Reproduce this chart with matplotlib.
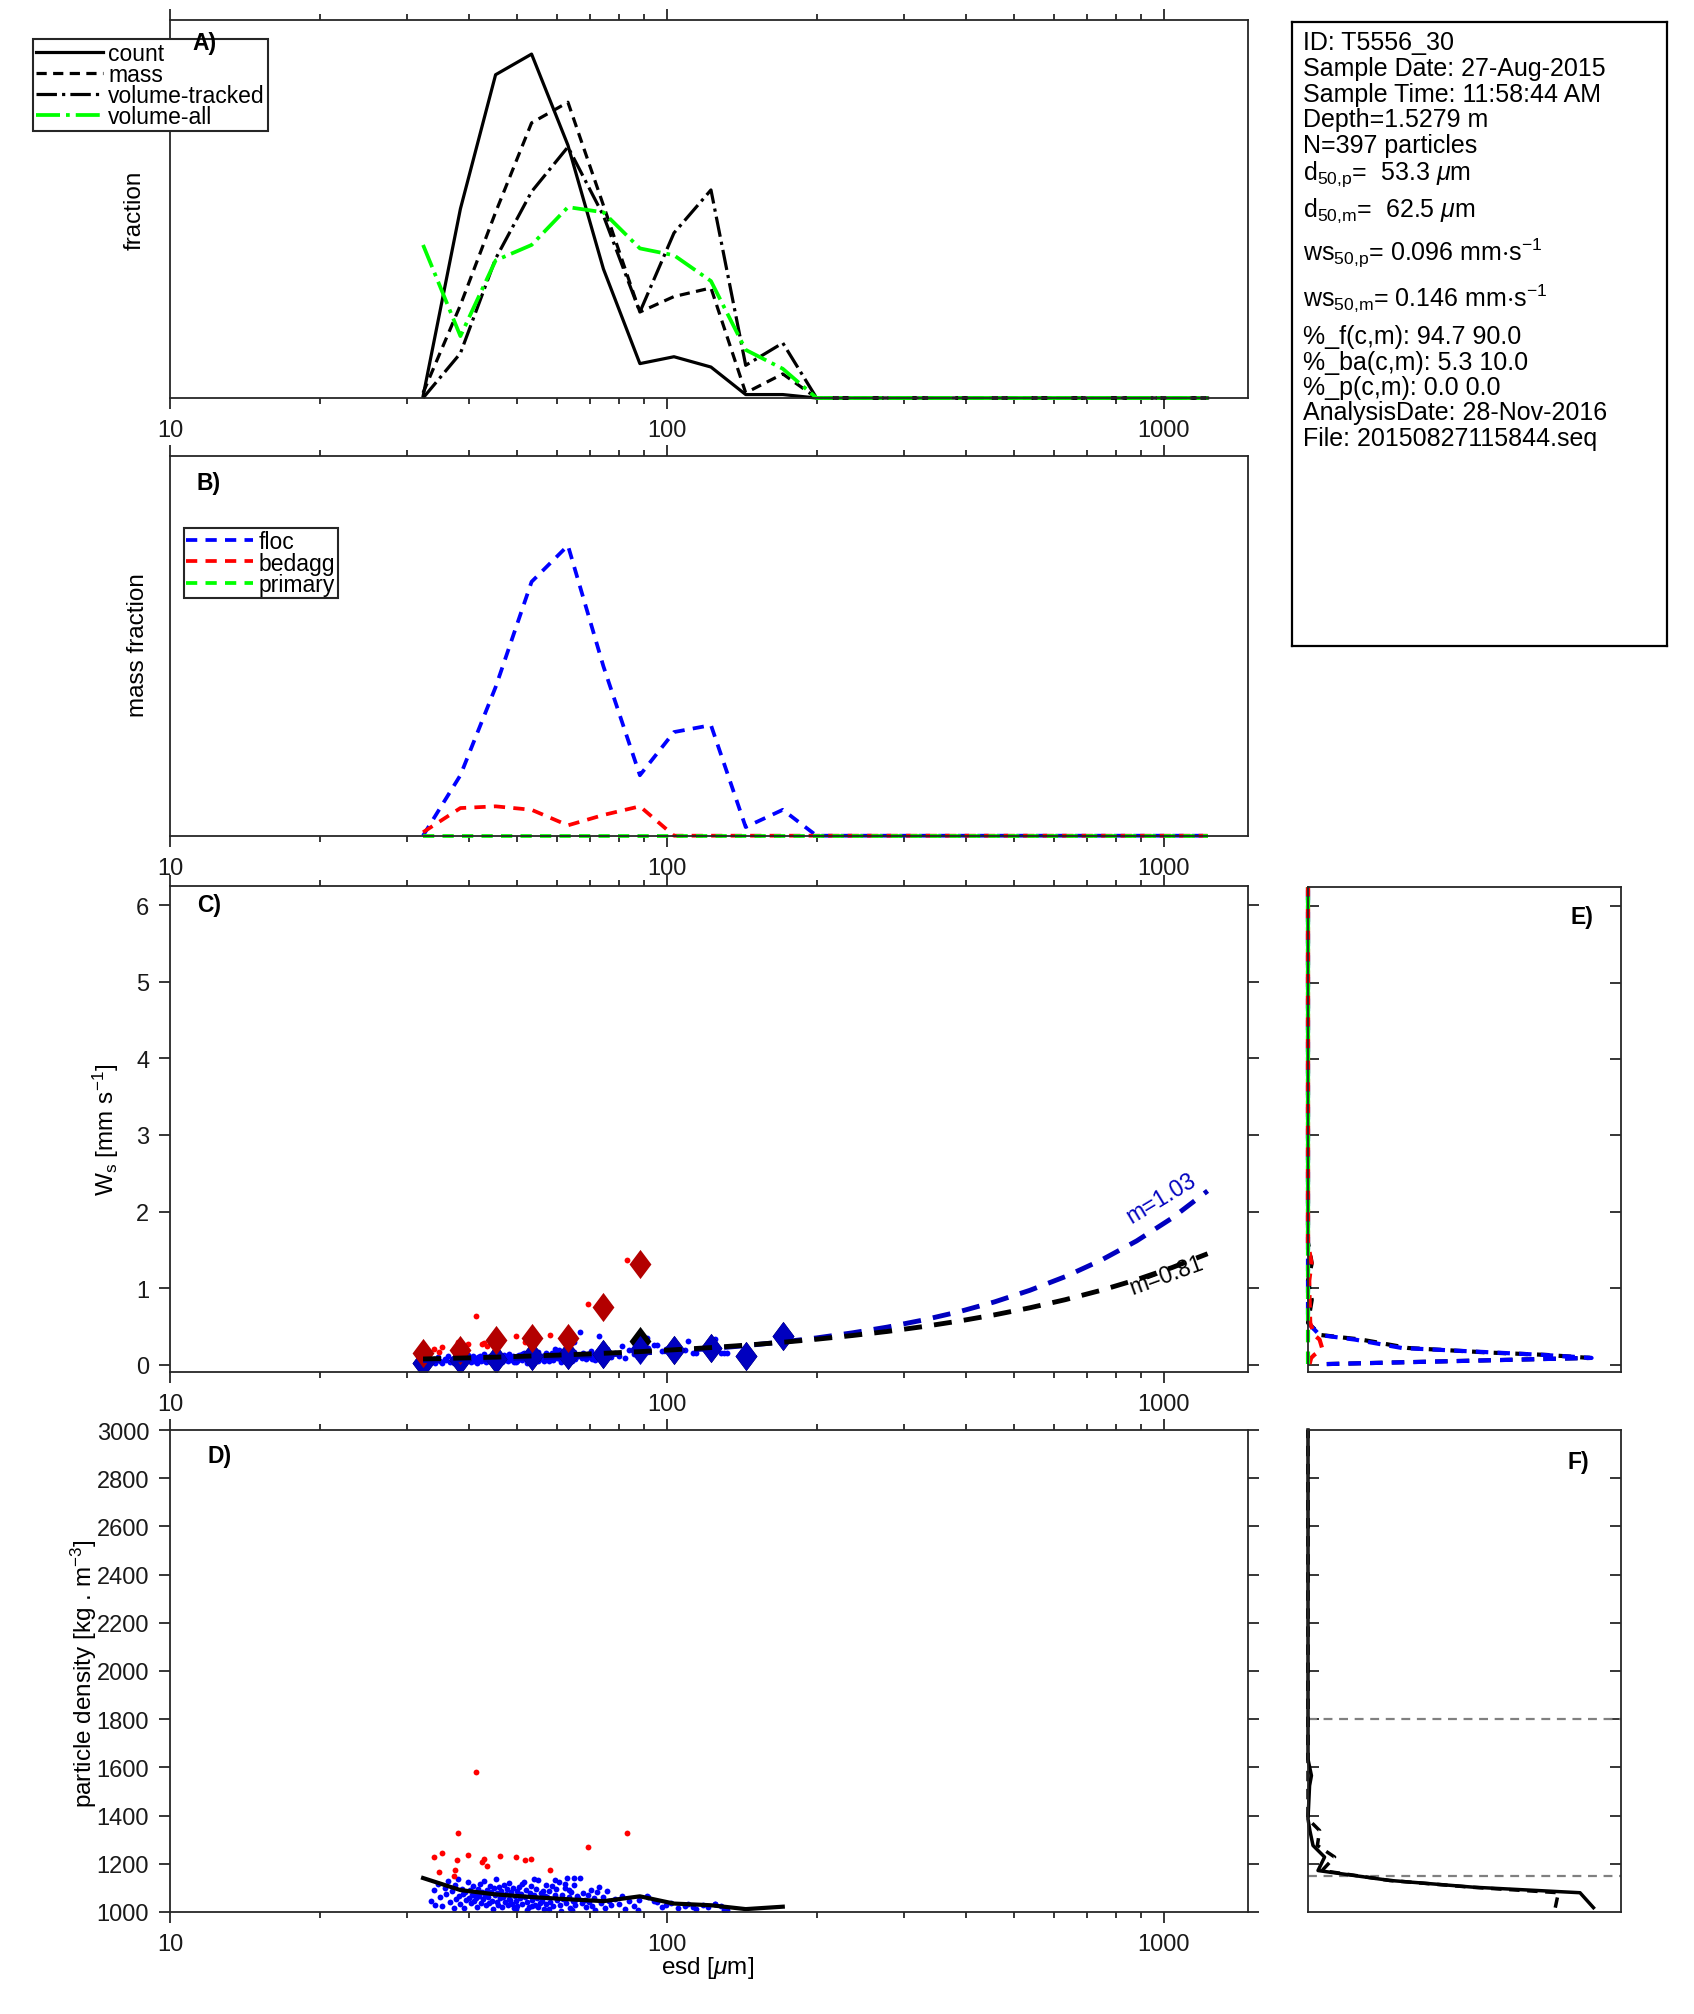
import numpy as np
import matplotlib
matplotlib.use('Agg')
import matplotlib.pyplot as plt
from matplotlib.path import Path
from matplotlib.ticker import FixedLocator, FixedFormatter, LogLocator, NullFormatter

plt.rcParams['font.family'] = ['Liberation Sans', 'DejaVu Sans']
plt.rcParams['mathtext.fontset'] = 'custom'
plt.rcParams['mathtext.rm'] = 'Liberation Sans'
plt.rcParams['mathtext.it'] = 'Liberation Sans:italic'
plt.rcParams['mathtext.default'] = 'regular'

# ---- size bins (esd, um) ----
esd_bins = [32.3, 38.4, 45.2, 53.4, 63.2, 74.5, 88.2, 103.3, 122.6, 144, 171, 200,
            236, 278, 328, 387, 456, 537, 633, 747, 881, 1038, 1224]

# A) fractions
count_frac = [0.001, 0.110, 0.188, 0.200, 0.147, 0.075, 0.020, 0.024, 0.018, 0.002, 0.002, 0.0,
              0, 0, 0, 0, 0, 0, 0, 0, 0, 0, 0]
mass_frac = [0.003, 0.054, 0.108, 0.160, 0.172, 0.112, 0.050, 0.059, 0.064, 0.003, 0.014, 0.0,
             0, 0, 0, 0, 0, 0, 0, 0, 0, 0, 0]
voltrk_frac = [0.0, 0.026, 0.081, 0.120, 0.146, 0.106, 0.050, 0.096, 0.121, 0.019, 0.032, 0.0,
               0, 0, 0, 0, 0, 0, 0, 0, 0, 0, 0]
volall_frac = [0.089, 0.036, 0.080, 0.089, 0.111, 0.108, 0.087, 0.083, 0.068, 0.028, 0.017, 0.0,
               0, 0, 0, 0, 0, 0, 0, 0, 0, 0, 0]

# B) mass fraction by class
floc_mass = [0.0, 0.035, 0.086, 0.147, 0.168, 0.098, 0.035, 0.060, 0.064, 0.005, 0.015, 0.0,
             0, 0, 0, 0, 0, 0, 0, 0, 0, 0, 0]
bedagg_mass = [0.002, 0.016, 0.017, 0.015, 0.006, 0.012, 0.017, 0.0, 0.0, 0.0, 0.0, 0.0,
               0, 0, 0, 0, 0, 0, 0, 0, 0, 0, 0]
primary_mass = [0, 0, 0, 0, 0, 0, 0, 0, 0, 0, 0, 0, 0, 0, 0, 0, 0, 0, 0, 0, 0, 0, 0]

# C) settling velocity fits (read off the dashed curves)
fit_floc = [0.054, 0.064, 0.076, 0.090, 0.107, 0.127, 0.151, 0.178, 0.212, 0.250, 0.299, 0.351,
            0.417, 0.493, 0.585, 0.693, 0.821, 0.972, 1.151, 1.365, 1.617, 1.915, 2.27]
fit_all = [0.076, 0.088, 0.100, 0.115, 0.131, 0.150, 0.172, 0.196, 0.225, 0.256, 0.294, 0.334,
           0.382, 0.436, 0.499, 0.571, 0.652, 0.744, 0.850, 0.972, 1.111, 1.269, 1.45]

# binned medians (diamonds)
med_floc_ws = [0.03, 0.06, 0.08, 0.11, 0.13, 0.14, 0.19, 0.19, 0.22, 0.11, 0.37]
med_all_ws = [0.03, 0.06, 0.08, 0.11, 0.13, 0.14, 0.31, 0.19, 0.22, 0.11, 0.37]
med_bedagg_ws = [0.15, 0.19, 0.32, 0.35, 0.35, 0.75, 1.32]

# individual particles: floc
floc_esd = [
    33.5, 33.9, 34.2, 34.6, 35.0, 35.3, 35.7, 36.0, 36.3, 36.6, 36.9, 37.2,
    37.4, 37.6, 37.9, 38.1, 38.3, 38.6, 38.8, 39.0, 39.2, 39.5, 39.7, 39.9, 40.1, 40.3, 40.5,
    40.7, 40.9, 41.1, 41.3, 41.5, 41.7, 41.9, 42.0, 42.2, 42.4,
    42.6, 42.8, 43.0, 43.2, 43.4, 43.6, 43.8, 44.0, 44.2, 44.4, 44.6, 44.8, 45.0, 45.2, 45.4,
    45.6, 45.8, 46.0, 46.2, 46.4, 46.6, 46.8, 47.0, 47.2, 47.4, 47.6, 47.8, 48.0, 48.2, 48.4,
    48.6, 48.8, 49.0, 49.2, 49.4,
    49.6, 49.8, 50.0, 50.3, 50.6, 50.9, 51.2, 51.5, 51.8, 52.1, 52.4, 52.7, 53.0, 53.3, 53.6,
    53.9, 54.2, 54.5, 54.8, 55.1, 55.4, 55.7, 56.0, 56.3, 56.6, 56.9, 57.1, 49.7, 51.0, 52.2,
    53.4, 54.0, 55.0, 56.1, 57.0,
    57.4, 57.8, 58.2, 58.6, 59.0, 59.4, 59.8, 60.2, 60.6, 61.0, 61.4, 61.8, 62.2, 62.6, 63.0,
    63.4, 63.8, 64.2, 64.6, 65.0, 65.4, 65.8, 58.0, 59.6, 61.2, 62.4, 63.6, 64.4, 65.2,
    66.3, 66.8, 67.3, 67.8, 68.3, 68.8, 69.3, 69.8, 70.3, 70.8, 71.3, 71.8, 72.3, 73.0, 73.5,
    74.2, 74.9, 75.6, 76.4, 77.3, 65.1,
    78.5, 80.0, 81.0, 82.3, 84.0, 86.0, 88.0, 91.0, 91.6, 87.5,
    94.0, 95.3, 97.5, 99.5, 102.0, 105.0, 108.5, 110.0,
    112.6, 114.3, 118.0, 121.0, 124.7, 125.0, 128.5, 130.0, 132.0]
floc_ws = [
    0.04, 0.07, 0.03, 0.10, 0.05, 0.02, 0.08, 0.06, 0.11, 0.04, 0.07, 0.03,
    0.09, 0.05, 0.12, 0.06, 0.04, 0.10, 0.07, 0.03, 0.08, 0.05, 0.13, 0.06, 0.09, 0.04, 0.07,
    0.11, 0.05, 0.08, 0.06, 0.03, 0.10, 0.07, 0.12, 0.05, 0.09,
    0.06, 0.14, 0.08, 0.04, 0.10, 0.07, 0.05, 0.12, 0.09, 0.06, 0.03, 0.11, 0.08, 0.15, 0.06,
    0.09, 0.05, 0.12, 0.07, 0.10, 0.04, 0.08, 0.13, 0.06, 0.09, 0.11, 0.05, 0.08, 0.14, 0.07,
    0.10, 0.06, 0.12, 0.04, 0.09,
    0.07, 0.11, 0.05, 0.13, 0.08, 0.10, 0.06, 0.16, 0.09, 0.12, 0.07, 0.05, 0.11, 0.14, 0.08,
    0.10, 0.06, 0.13, 0.09, 0.17, 0.07, 0.11, 0.08, 0.12, 0.05, 0.10, 0.15, 0.04, 0.14, 0.03,
    0.06, 0.18, 0.05, 0.09, 0.07,
    0.10, 0.13, 0.08, 0.16, 0.06, 0.11, 0.14, 0.09, 0.19, 0.07, 0.12, 0.10, 0.15, 0.08, 0.22,
    0.11, 0.06, 0.13, 0.09, 0.17, 0.07, 0.12, 0.05, 0.20, 0.04, 0.18, 0.14, 0.05, 0.10,
    0.12, 0.43, 0.09, 0.15, 0.11, 0.07, 0.14, 0.10, 0.18, 0.08, 0.13, 0.06, 0.16, 0.38, 0.11,
    0.14, 0.08, 0.20, 0.12, 0.10, 0.30,
    0.16, 0.12, 0.24, 0.09, 0.19, 0.14, 0.21, 0.35, 0.22, 0.10,
    0.26, 0.26, 0.18, 0.20, 0.23, 0.15, 0.19, 0.31,
    0.15, 0.15, 0.22, 0.18, 0.34, 0.20, 0.16, 0.15, 0.15]
floc_rho = [
    1045, 1092, 1030, 1118, 1062, 1024, 1101, 1075, 1128, 1041, 1088, 1015,
    1110, 1055, 1135, 1068, 1032, 1097, 1074, 1018, 1083, 1049, 1124, 1060, 1090, 1036, 1071,
    1106, 1044, 1079, 1057, 1021, 1094, 1066, 1115, 1039, 1085,
    1052, 1130, 1072, 1027, 1093, 1061, 1038, 1108, 1081, 1047, 1012, 1099, 1069, 1137, 1043,
    1077, 1031, 1102, 1058, 1087, 1020, 1064, 1112, 1040, 1073, 1095, 1028, 1056, 1121, 1050,
    1084, 1035, 1098, 1016, 1067,
    1046, 1089, 1024, 1104, 1059, 1076, 1033, 1126, 1063, 1091, 1042, 1019, 1080, 1109, 1051,
    1070, 1029, 1096, 1057, 1132, 1037, 1078, 1045, 1086, 1014, 1065, 1113, 1011, 1117, 1008,
    1026, 1139, 1022, 1053, 1034,
    1061, 1088, 1043, 1107, 1025, 1069, 1094, 1048, 1123, 1031, 1072, 1055, 1099, 1038, 1141,
    1063, 1017, 1082, 1044, 1110, 1027, 1066, 1012, 1131, 1006, 1115, 1090, 1010, 1050,
    1060, 1142, 1036, 1078, 1049, 1020, 1071, 1041, 1093, 1026, 1058, 1009, 1081, 1105, 1039,
    1063, 1018, 1087, 1047, 1029, 1142,
    1052, 1033, 1068, 1012, 1044, 1025, 1049, 1066, 1063, 1010,
    1044, 1040, 1022, 1030, 1038, 1016, 1026, 1035,
    1021, 1011, 1030, 1022, 1033, 1035, 1025, 1008, 1008]

# individual particles: bed aggregates
bed_esd = [33.9, 34.8, 35.3, 37.2, 37.5, 37.8, 37.9, 39.8, 41.3, 42.4, 42.8, 43.5, 46.1,
           49.6, 51.8, 53.2, 58.1, 69.2, 83.0]
bed_ws = [0.20, 0.17, 0.235, 0.18, 0.22, 0.20, 0.30, 0.27, 0.635, 0.27, 0.28, 0.25, 0.30,
          0.38, 0.30, 0.30, 0.39, 0.79, 1.37]
bed_rho = [1227, 1167, 1246, 1151, 1173, 1217, 1329, 1238, 1582, 1209, 1221, 1190, 1231,
           1227, 1217, 1221, 1173, 1271, 1329]

# D) binned mean density
mean_rho = [1141, 1091, 1073, 1062, 1053, 1045, 1065, 1035, 1028, 1012, 1022]

# E) ws distributions
ws_bins_e = [0.01, 0.09, 0.13, 0.16, 0.22, 0.33, 0.39, 0.55, 0.85, 1.1, 1.33, 1.6, 6.25]
e_all = [0.06, 0.90, 0.76, 0.58, 0.32, 0.17, 0.04, 0.0, 0.012, 0.0, 0.012, 0.0, 0.0]
e_floc = [0.06, 0.906, 0.75, 0.60, 0.30, 0.15, 0.037, 0.0, 0.0, 0.0, 0.0, 0.0, 0.0]
e_bedagg = [0.005, 0.01, 0.02, 0.03, 0.045, 0.037, 0.02, 0.007, 0.005, 0.004, 0.011, 0.0, 0.0]
e_primary = [0, 0, 0, 0, 0, 0, 0, 0, 0, 0, 0, 0, 0]

# F) density distributions
rho_bins_f = [1018, 1080, 1103, 1131, 1172, 1228, 1276, 1338, 1386, 1524, 1566, 1634, 3000]
f_count = [0.912, 0.869, 0.528, 0.261, 0.032, 0.053, 0.016, 0.006, 0.0, 0.005, 0.011, 0.0, 0.0]
f_mass = [0.79, 0.80, 0.52, 0.26, 0.045, 0.085, 0.03, 0.037, 0.0, 0.0, 0.0, 0.0, 0.0]

info_lines = [
    'ID: T5556_30',
    'Sample Date: 27-Aug-2015',
    'Sample Time: 11:58:44 AM',
    'Depth=1.5279 m',
    'N=397 particles',
    r'd$_{50{,}p}$=  53.3 $\mathit{\mu}$m',
    r'd$_{50{,}m}$=  62.5 $\mathit{\mu}$m',
    r'ws$_{50{,}p}$= 0.096 mm$\cdot$s$^{-1}$',
    r'ws$_{50{,}m}$= 0.146 mm$\cdot$s$^{-1}$',
    '%_f(c,m): 94.7 90.0',
    '%_ba(c,m): 5.3 10.0',
    '%_p(c,m): 0.0 0.0',
    'AnalysisDate: 28-Nov-2016',
    'File: 20150827115844.seq',
]
info_baselines = [49.6, 75.6, 101.6, 127.5, 153.4, 179.8, 216.4, 260.5, 305.9, 343.7, 369.7, 395, 420, 446]

# ---- layout (pixel boxes on a 1694x2015 canvas) ----
W, H = 1694, 2015
fig = plt.figure(figsize=(W / 100, H / 100), dpi=100)


def add_box(l, t, r, b):
    return fig.add_axes([l / W, 1 - b / H, (r - l) / W, (b - t) / H])


AX = '0.15'
DBLUE = (0, 0, 0.75)
DRED = (0.7, 0, 0)
diamond = Path([(0, 1), (0.75, 0), (0, -1), (-0.75, 0), (0, 1)])


def style_main(ax):
    ax.set_xscale('log')
    ax.set_xlim(10, 1476)
    ax.xaxis.set_major_locator(FixedLocator([10, 100, 1000]))
    ax.xaxis.set_major_formatter(FixedFormatter(['10', '100', '1000']))
    ax.xaxis.set_minor_locator(LogLocator(base=10, subs=np.arange(2, 10)))
    ax.xaxis.set_minor_formatter(NullFormatter())
    ax.tick_params(which='both', direction='out', top=True, right=True,
                   width=1.3, color=AX, labelsize=17, labelcolor='0.1', pad=7)
    ax.tick_params(which='major', length=8)
    ax.tick_params(which='minor', length=4)
    for s in ax.spines.values():
        s.set_linewidth(1.3)
        s.set_color(AX)


def style_side(ax):
    ax.set_xlim(0, 1)
    ax.set_xticks([])
    ax.tick_params(axis='y', direction='in', left=True, right=True, labelleft=False,
                   length=8, width=1.3, color=AX)
    for s in ax.spines.values():
        s.set_linewidth(1.3)
        s.set_color(AX)


def ylab(ax, xpx, text, yfrac=0.5):
    ax.text(xpx, yfrac, text, transform=ax.transAxes, rotation=90,
            ha='center', va='center', fontsize=17.5)


def letter(ax, x, y, s):
    ax.text(x, y, s, transform=ax.transAxes, fontsize=16.5, fontweight='bold',
            ha='center', va='center', zorder=10)


def make_legend(ax, handles, x, y):
    leg = ax.legend(handles=handles, loc='upper left',
                    bbox_to_anchor=(x / W, 1 - y / H), bbox_transform=fig.transFigure,
                    fontsize=16.5, fancybox=False, edgecolor=AX, framealpha=1,
                    borderpad=0.12, labelspacing=-0.08, handlelength=2.9, handletextpad=0.25,
                    borderaxespad=0)
    leg.get_frame().set_linewidth(1.5)
    leg.set_zorder(5)
    return leg


# ---- A ----
axA = add_box(170, 20.7, 1248, 399)
style_main(axA)
axA.set_yticks([])
axA.set_ylim(0, 0.22)
lA1, = axA.plot(esd_bins, count_frac, '-', color='k', lw=2.3, label='count', clip_on=False)
lA2, = axA.plot(esd_bins, mass_frac, color='k', lw=2.3, dashes=(3.2, 2), label='mass', clip_on=False)
lA3, = axA.plot(esd_bins, voltrk_frac, '-.', color='k', lw=2.3, label='volume-tracked', clip_on=False)
lA4, = axA.plot(esd_bins, volall_frac, '-.', color=(0, 1, 0), lw=2.7, label='volume-all', clip_on=False)
ylab(axA, -0.033, 'fraction')
letter(axA, 0.032, 0.941, 'A)')
make_legend(axA, [lA1, lA2, lA3, lA4], 33.4, 39.8)

# ---- B ----
axB = add_box(170, 456.7, 1248, 836.7)
style_main(axB)
axB.set_yticks([])
axB.set_ylim(0, 0.22)
lB1, = axB.plot(esd_bins, floc_mass, color=(0, 0, 1), lw=2.7, dashes=(3, 2.2), label='floc', clip_on=False)
lB2, = axB.plot(esd_bins, bedagg_mass, color=(1, 0, 0), lw=2.7, dashes=(3, 2.2), label='bedagg', clip_on=False)
lB3, = axB.plot(esd_bins, primary_mass, color=(0, 1, 0), lw=2.7, dashes=(3, 2.2), label='primary', clip_on=False)
ylab(axB, -0.030, 'mass fraction', 0.503)
letter(axB, 0.036, 0.93, 'B)')
make_legend(axB, [lB1, lB2, lB3], 183.5, 528.6)

# ---- C ----
axC = add_box(170, 887, 1248, 1372.7)
style_main(axC)
axC.set_ylim(-0.09, 6.25)
axC.set_yticks([0, 1, 2, 3, 4, 5, 6])
axC.plot(floc_esd, floc_ws, 'o', color=(0, 0, 1), ms=4.2, mew=0)
axC.plot(bed_esd, bed_ws, 'o', color=(1, 0, 0), ms=4.2, mew=0)
axC.plot(esd_bins[:11], med_all_ws, ls='none', marker=diamond, ms=21, color='k', mew=0)
axC.plot(esd_bins[:11], med_floc_ws, ls='none', marker=diamond, ms=21, color=DBLUE, mew=0)
axC.plot(esd_bins[:7], med_bedagg_ws, ls='none', marker=diamond, ms=21, color=DRED, mew=0)
axC.plot(esd_bins, fit_floc, color=DBLUE, lw=3.5, dashes=(3.7, 2.5))
axC.plot(esd_bins, fit_all, color='k', lw=3.5, dashes=(3.7, 2.5))
axC.text(989, 2.18, 'm=1.03', rotation=31, color=DBLUE, fontsize=16.5,
         ha='center', va='center', rotation_mode='anchor')
axC.text(1012, 1.18, 'm=0.81', rotation=20, color='k', fontsize=16.5,
         ha='center', va='center', rotation_mode='anchor')
ylab(axC, -0.059, r'W$_s$ [mm s$^{-1}$]')
letter(axC, 0.036, 0.961, 'C)')

# ---- D ----
axD = add_box(170, 1431, 1248, 1913)
style_main(axD)
axD.set_ylim(1000, 3000)
axD.set_yticks([1000, 1200, 1400, 1600, 1800, 2000, 2200, 2400, 2600, 2800, 3000])
axD.plot(floc_esd, floc_rho, 'o', color=(0, 0, 1), ms=4.2, mew=0)
axD.plot(bed_esd, bed_rho, 'o', color=(1, 0, 0), ms=4.2, mew=0)
axD.plot(esd_bins[:11], mean_rho, '-', color='k', lw=3)
ylab(axD, -0.080, r'particle density [kg . m$^{-3}$]', 0.497)
letter(axD, 0.046, 0.948, 'D)')
fig.text(708 / W, 1 - 1968 / H, r'esd [$\mathit{\mu}$m]', ha='center', va='center', fontsize=17.5)

# ---- E ----
axE = add_box(1308, 888, 1621, 1372.7)
style_side(axE)
axE.set_ylim(-0.09, 6.25)
axE.set_yticks([0, 1, 2, 3, 4, 5, 6])
axE.plot(e_all, ws_bins_e, color='k', lw=3, dashes=(3, 2.2), clip_on=False)
axE.plot(e_floc, ws_bins_e, color=(0, 0, 1), lw=3, dashes=(3, 2.2), clip_on=False)
axE.plot(e_bedagg, ws_bins_e, color=(1, 0, 0), lw=3, dashes=(3, 2.2), clip_on=False)
axE.plot(e_primary, ws_bins_e, color=(0, 1, 0), lw=3, dashes=(3, 2.2), clip_on=False)
letter(axE, 0.874, 0.94, 'E)')

# ---- F ----
axF = add_box(1308, 1431, 1621, 1913)
style_side(axF)
axF.set_ylim(1000, 3000)
axF.set_yticks([1200, 1400, 1600, 1800, 2000, 2200, 2400, 2600, 2800])
axF.axhline(1800, color='0.5', lw=1.6, dashes=(4, 3))
axF.axhline(1150, color='0.5', lw=1.6, dashes=(4, 3))
axF.plot(f_mass, rho_bins_f, color='k', lw=2.5, dashes=(3, 2.2), clip_on=False)
axF.plot(f_count, rho_bins_f, '-', color='k', lw=2.5, clip_on=False)
letter(axF, 0.863, 0.934, 'F)')

# ---- info box ----
axI = add_box(1291.7, 23, 1667, 647)
axI.set_xticks([])
axI.set_yticks([])
for s in axI.spines.values():
    s.set_linewidth(1.6)
    s.set_color('k')
for line, yb in zip(info_lines, info_baselines):
    fig.text(1303.3 / W, 1 - yb / H, line, ha='left', va='baseline', fontsize=18)

fig.savefig('out.png', dpi=100)
